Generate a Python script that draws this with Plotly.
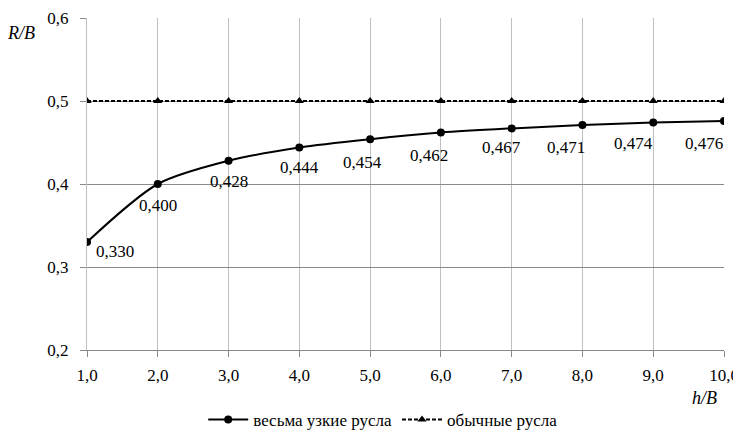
import plotly.graph_objects as go

# h/B values
h_b = [1.0, 2.0, 3.0, 4.0, 5.0, 6.0, 7.0, 8.0, 9.0, 10.0]
# R/B for very narrow channels
narrow = [0.330, 0.400, 0.428, 0.444, 0.454, 0.462, 0.467, 0.471, 0.474, 0.476]
# R/B for ordinary channels
ordinary = [0.5, 0.5, 0.5, 0.5, 0.5, 0.5, 0.5, 0.5, 0.5, 0.5]

x_ticks = [1, 2, 3, 4, 5, 6, 7, 8, 9, 10]
x_ticklabels = ["1,0", "2,0", "3,0", "4,0", "5,0", "6,0", "7,0", "8,0", "9,0", "10,0"]
y_ticks = [0.2, 0.3, 0.4, 0.5, 0.6]
y_ticklabels = ["0,2", "0,3", "0,4", "0,5", "0,6"]

FONT = "Liberation Serif, Times New Roman, serif"

# label offsets in pixels (dx, dy) relative to each point
label_dx = [28, 0, 0, 0, -8, -12, -10, -16, -20, -20]
label_dy = [-9, -21, -21, -20, -23, -23, -19, -22, -21, -23]

fig = go.Figure()

fig.add_trace(go.Scatter(
    x=h_b, y=narrow,
    mode="lines+markers",
    name="весьма узкие русла",
    line=dict(color="black", width=2, shape="spline", smoothing=0.8),
    marker=dict(symbol="circle", size=8, color="black"),
))

fig.add_trace(go.Scatter(
    x=h_b, y=ordinary,
    mode="lines+markers",
    name="обычные русла",
    line=dict(color="black", width=2, dash="4px,2px"),
    marker=dict(symbol="triangle-up", size=8, color="black"),
))

# data labels
for xv, yv, dx, dy in zip(h_b, narrow, label_dx, label_dy):
    fig.add_annotation(
        x=xv, y=yv, text=f"{yv:.3f}".replace(".", ","),
        showarrow=False, xshift=dx, yshift=dy,
        font=dict(family=FONT, size=17, color="black"),
    )

# axis titles
fig.add_annotation(
    x=-0.129, y=0.955, xref="paper", yref="paper",
    text="<i>R/B</i>", showarrow=False,
    xanchor="left", yanchor="middle",
    font=dict(family=FONT, size=18, color="black"),
)
fig.add_annotation(
    x=0.969, y=-0.145, xref="paper", yref="paper",
    text="<i>h/B</i>", showarrow=False,
    xanchor="center", yanchor="middle",
    font=dict(family=FONT, size=18, color="black"),
)

# the page body adds an 8px offset, so the figure is 8px smaller than the window
fig.update_layout(
    width=733, height=427,
    margin=dict(l=79, r=17, t=10, b=85, autoexpand=False),
    plot_bgcolor="white",
    paper_bgcolor="white",
    font=dict(family=FONT, size=17, color="black"),
    showlegend=True,
    legend=dict(
        orientation="h",
        x=0.465, xanchor="center",
        y=-0.211, yanchor="middle",
        font=dict(family=FONT, size=17, color="black"),
        itemwidth=40,
        tracegroupgap=0,
    ),
    xaxis=dict(
        range=[1, 10],
        tickvals=x_ticks, ticktext=x_ticklabels,
        showgrid=True, gridcolor="#c0c0c0", gridwidth=1,
        zeroline=False,
        showline=True, linecolor="#898989", linewidth=1,
        ticks="outside", ticklen=6, tickcolor="#898989",
        ticklabelstandoff=4,
        ticklabeloverflow="allow",
    ),
    yaxis=dict(
        range=[0.2, 0.6],
        tickvals=y_ticks, ticktext=y_ticklabels,
        showgrid=True, gridcolor="#898989", gridwidth=1,
        zeroline=False,
        showline=True, linecolor="#c0c0c0", linewidth=1,
        ticks="outside", ticklen=6, tickcolor="#898989",
        ticklabelstandoff=8,
        ticklabeloverflow="allow",
    ),
)

fig.write_html("out.html")
